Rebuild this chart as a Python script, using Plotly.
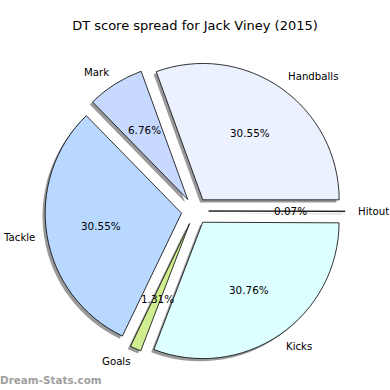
import math
import plotly.graph_objects as go

labels = ["Handballs", "Mark", "Tackle", "Goals", "Kicks", "Hitout"]
values = [30.55, 6.76, 30.55, 1.31, 30.76, 0.07]
colors = ["#EBF1FF", "#C8D9FF", "#B8D8FF", "#D0EE90", "#DDFFFF", "#FFE0E0"]
title_text = "DT score spread for Jack Viney (2015)"
watermark = "Dream-Stats.com"

W = H = 390
PULL = 0.1
dom_x = [0.1154, 0.8846]
dom_y = [0.0744, 0.8436]
shadow_off = 2.7 / W

cx = (dom_x[0] + dom_x[1]) / 2
cy = (dom_y[0] + dom_y[1]) / 2
r = (dom_x[1] - dom_x[0]) / 2 / (1 + PULL)

total = sum(values)
# plotly counterclockwise: first slice occupies [rotation, rotation + its angle] (clockwise from top)
rotation = 90 - 360 * values[0] / total

fig = go.Figure()
# shadow
fig.add_trace(go.Pie(
    labels=labels, values=values, sort=False, direction="counterclockwise",
    rotation=rotation, pull=[PULL] * len(values), textinfo="none", hoverinfo="skip",
    marker=dict(colors=["#9a9a9a"] * len(values), line=dict(width=0)),
    domain=dict(x=[dom_x[0] - shadow_off, dom_x[1] - shadow_off],
                y=[dom_y[0] - shadow_off, dom_y[1] - shadow_off]),
    showlegend=False,
))
fig.add_trace(go.Pie(
    labels=labels, values=values, sort=False, direction="counterclockwise",
    rotation=rotation, pull=[PULL] * len(values), textinfo="none",
    marker=dict(colors=colors, line=dict(color="black", width=0.8)),
    domain=dict(x=dom_x, y=dom_y), showlegend=False,
))

annotations = []
start = 0.0
for lab, v in zip(labels, values):
    ang = start + 360 * v / total / 2
    start += 360 * v / total
    c, s = math.cos(math.radians(ang)), math.sin(math.radians(ang))
    annotations.append(dict(
        x=cx + (0.6 + PULL) * r * c, y=cy + (0.6 + PULL) * r * s,
        xref="paper", yref="paper", text=f"{v:.2f}%", showarrow=False,
        xanchor="center", yanchor="middle",
        font=dict(family="DejaVu Sans", size=10.4, color="black")))
    left = c > 0
    annotations.append(dict(
        x=cx + (1.1 + PULL) * r * c, y=cy + (1.1 + PULL) * r * s,
        xref="paper", yref="paper", text=lab, showarrow=False,
        xanchor="left" if left else "right", yanchor="middle",
        xshift=-3 if left else 3,
        font=dict(family="DejaVu Sans", size=10.2, color="black")))

annotations.append(dict(
    x=0.0, y=1 - 380 / H, xref="paper", yref="paper", text=f"<b>{watermark}</b>",
    showarrow=False, xanchor="left", yanchor="middle", xshift=-2,
    font=dict(family="DejaVu Sans", size=10.4, color="#a0a0a0")))

fig.update_layout(
    width=W, height=H, margin=dict(l=0, r=0, t=0, b=0),
    paper_bgcolor="white", plot_bgcolor="white",
    title=dict(text=title_text, x=0.5, xanchor="center", y=1 - 25 / H, yanchor="middle",
               font=dict(family="DejaVu Sans", size=13, color="black")),
    annotations=annotations,
)
fig.write_html("out.html", config={"displayModeBar": False},
               post_script="document.body.style.margin='0px';")
